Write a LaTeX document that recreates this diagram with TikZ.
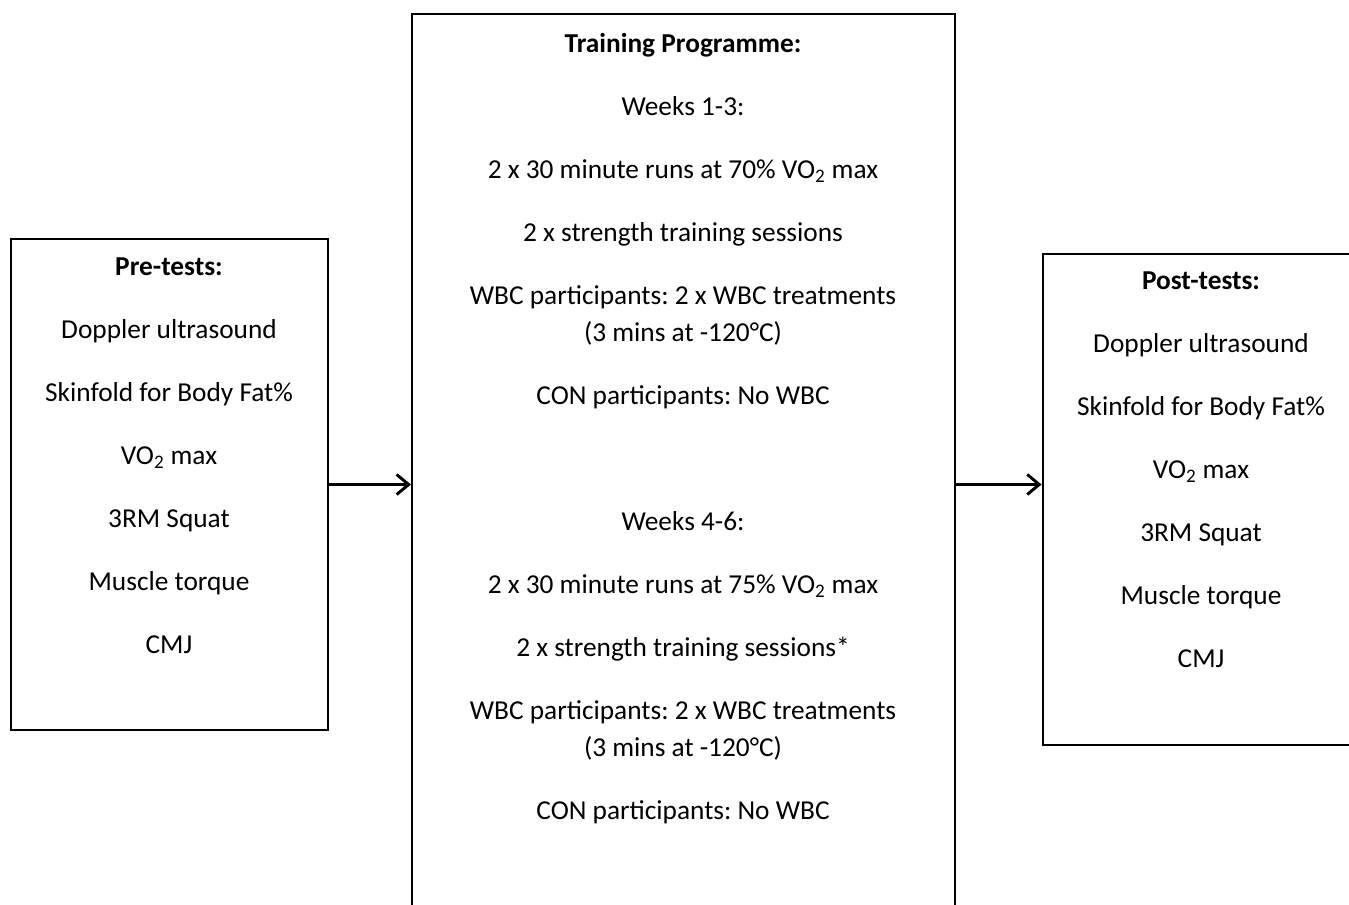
\documentclass[tikz,border=0pt]{standalone}
\usepackage{fontspec}
\setmainfont{Carlito}
\frenchspacing
\usetikzlibrary{arrows.meta,
                fit}

\begin{document}
\begin{tikzpicture}[x=0.75pt,y=-0.75pt,
  box/.style={draw,line width=2.2pt,inner sep=0pt},
  txt/.style={align=center,inner sep=0pt,anchor=north,font=\fontsize{20.5}{47.25}\selectfont},
  flow/.style={line width=2.2pt,-{Straight Barb[length=9pt,width=15pt]}}]
 \useasboundingbox (0,0) rectangle (1349,904);
 \clip (0,0) rectangle (1349,904);
 \node[box,fit={(11,239) (328,730)}] (pre) {};
 \node[box,line width=1.6pt,fit={(412,14) (955,930)}] (prog) {};
 \node[box,fit={(1043,254) (1360,745)}] (post) {};
 \node[txt] (pretext) at (169,257) {\textbf{Pre-tests:}\\ Doppler ultrasound\\ Skinfold for Body Fat\%\\
   VO\textsubscript{2} max\\ 3RM Squat\\ Muscle torque\\ CMJ};
 \node[txt] (progtext) at (683,33) {\textbf{Training Programme:}\\ Weeks 1-3:\\
   2 x 30 minute runs at 70\% VO\textsubscript{2} max\\ 2 x strength training sessions\\
   WBC participants: 2 x WBC treatments\\[-19.5pt] (3 mins at -120°C)\\ CON participants: No WBC\\[47.25pt]
   Weeks 4-6:\\ 2 x 30 minute runs at 75\% VO\textsubscript{2} max\\ 2 x strength training sessions*\\
   WBC participants: 2 x WBC treatments\\[-19.5pt] (3 mins at -120°C)\\ CON participants: No WBC};
 \node[txt] (posttext) at (1201,271) {\textbf{Post-tests:}\\ Doppler ultrasound\\ Skinfold for Body Fat\%\\
   VO\textsubscript{2} max\\ 3RM Squat\\ Muscle torque\\ CMJ};
 \draw[flow] (pre.east) -- (pre.east -| prog.west);
 \draw[flow] (pre.east -| prog.east) -- (pre.east -| post.west);
\end{tikzpicture}
\end{document}
